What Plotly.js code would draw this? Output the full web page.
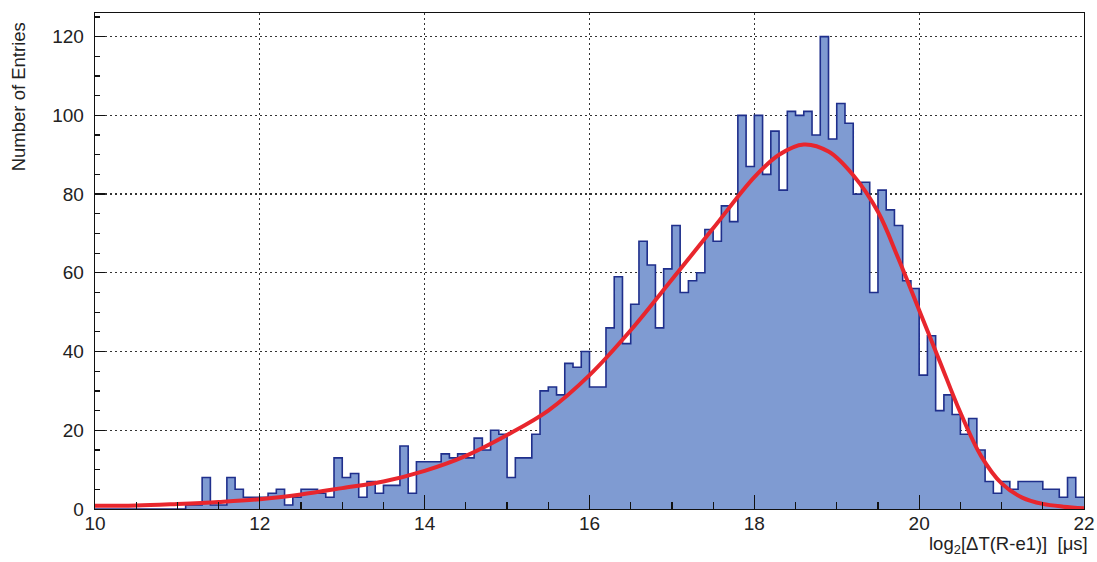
<!DOCTYPE html>
<html>
<head>
<meta charset="utf-8">
<script src="https://cdn.plot.ly/plotly-3.0.1.min.js"></script>
<style>html,body{margin:0;padding:0;background:#fff;}#chart{width:1097px;height:562px;}</style>
</head>
<body>
<div id="chart"></div>
<script>
// Histogram: 120 bins of width 0.1 from 10 to 22
var binLow = 10;
var binWidth = 0.1;
var counts = [
  0, 0, 0, 0, 0, 0, 0, 0, 0, 0,
  0, 1, 1, 8, 1, 1, 8, 5, 3, 3,
  3, 4, 5, 1, 3, 5, 5, 4, 3, 13,
  8, 9, 3, 7, 4, 6, 6, 16, 4, 12,
  12, 12, 14, 13, 14, 13, 18, 15, 20, 19,
  8, 13, 13, 19, 30, 31, 29, 37, 36, 40,
  31, 31, 46, 59, 42, 52, 68, 62, 46, 61,
  72, 55, 58, 60, 71, 68, 77, 73, 100, 87,
  100, 85, 96, 81, 101, 100, 101, 95, 120, 94,
  103, 98, 80, 83, 55, 81, 76, 72, 58, 56,
  34, 44, 25, 29, 24, 19, 23, 15, 7, 4,
  7, 5, 7, 7, 7, 5, 5, 3, 8, 3
];
// Fit curve
var fitX = [10.0, 10.5, 11.0, 11.5, 12.0, 12.5, 13.0, 13.5, 14.0, 14.5, 15.0, 15.5, 16.0, 16.5, 17.0, 17.5, 18.0, 18.3, 18.6, 18.9, 19.2, 19.5, 19.75, 20.0, 20.25, 20.5, 20.75, 21.0, 21.25, 21.5, 21.75, 22.0];
var fitY = [0.8, 0.9, 1.3, 1.8, 2.5, 3.7, 5.3, 7.0, 9.7, 13.5, 18.8, 25.0, 34.0, 45.4, 58.3, 71.3, 84.3, 90.0, 92.6, 90.8, 84.8, 75.5, 63.5, 50.5, 37.5, 24.5, 13.5, 6.5, 2.9, 1.3, 0.6, 0.2];
var xTickVals = [10, 12, 14, 16, 18, 20, 22];
var yTickVals = [0, 20, 40, 60, 80, 100, 120];

var edgesX = [];
var stepY = [];
for (var i = 0; i <= counts.length; i++) {
  edgesX.push(binLow + binWidth * i);
  stepY.push(counts[Math.min(i, counts.length - 1)]);
}

var font = 'Liberation Sans, Arial, Helvetica, sans-serif';

var traces = [
  {
    type: 'scatter', mode: 'lines',
    x: edgesX, y: stepY,
    line: {shape: 'hv', color: '#1f2f8c', width: 1.6},
    fill: 'tozeroy', fillcolor: '#7f9bd2',
    hoverinfo: 'skip', showlegend: false
  },
  {
    type: 'scatter', mode: 'lines',
    x: fitX, y: fitY,
    line: {shape: 'spline', smoothing: 1, color: '#e8262d', width: 4},
    hoverinfo: 'skip', showlegend: false
  }
];

var layout = {
  width: 1097, height: 562,
  margin: {l: 95, r: 13, t: 13, b: 53},
  paper_bgcolor: '#ffffff', plot_bgcolor: '#ffffff',
  font: {family: font, color: '#222', size: 19},
  showlegend: false,
  xaxis: {
    range: [10, 22], tickvals: xTickVals, ticktext: xTickVals.map(String),
    ticks: 'inside', ticklen: 14, tickwidth: 1.2, tickcolor: '#111',
    minor: {dtick: 0.5, tick0: 10, ticks: 'inside', ticklen: 7, tickwidth: 1.2, tickcolor: '#111', showgrid: false},
    showgrid: true, gridcolor: '#333', gridwidth: 1.3, griddash: '2px,3px',
    showline: true, linecolor: '#111', linewidth: 1.3, mirror: true,
    zeroline: false, ticklabelstandoff: -3,
    tickfont: {family: font, size: 19, color: '#222'}
  },
  yaxis: {
    range: [0, 126], tickvals: yTickVals, ticktext: yTickVals.map(String),
    ticks: 'inside', ticklen: 10, tickwidth: 1.2, tickcolor: '#111',
    minor: {dtick: 5, tick0: 0, ticks: 'inside', ticklen: 5, tickwidth: 1.2, tickcolor: '#111', showgrid: false},
    showgrid: true, gridcolor: '#333', gridwidth: 1.3, griddash: '2px,3px',
    showline: true, linecolor: '#111', linewidth: 1.3, mirror: true,
    zeroline: false, ticklabelstandoff: 6,
    tickfont: {family: font, size: 19, color: '#222'}
  },
  annotations: [
    {
      xref: 'paper', yref: 'paper', x: 1, y: -0.073,
      xanchor: 'right', yanchor: 'middle', xshift: 6,
      text: 'log<sub>2</sub>[ΔT(R-e1)]\u00a0\u00a0[μs]',
      showarrow: false, font: {family: font, size: 18.5, color: '#222'}
    },
    {
      xref: 'paper', yref: 'paper', x: -0.077, y: 0.986,
      xanchor: 'center', yanchor: 'top', textangle: -90,
      text: 'Number of Entries',
      showarrow: false, font: {family: font, size: 18.5, color: '#222'}
    }
  ]
};

Plotly.newPlot('chart', traces, layout, {displayModeBar: false, staticPlot: true});
</script>
</body>
</html>
